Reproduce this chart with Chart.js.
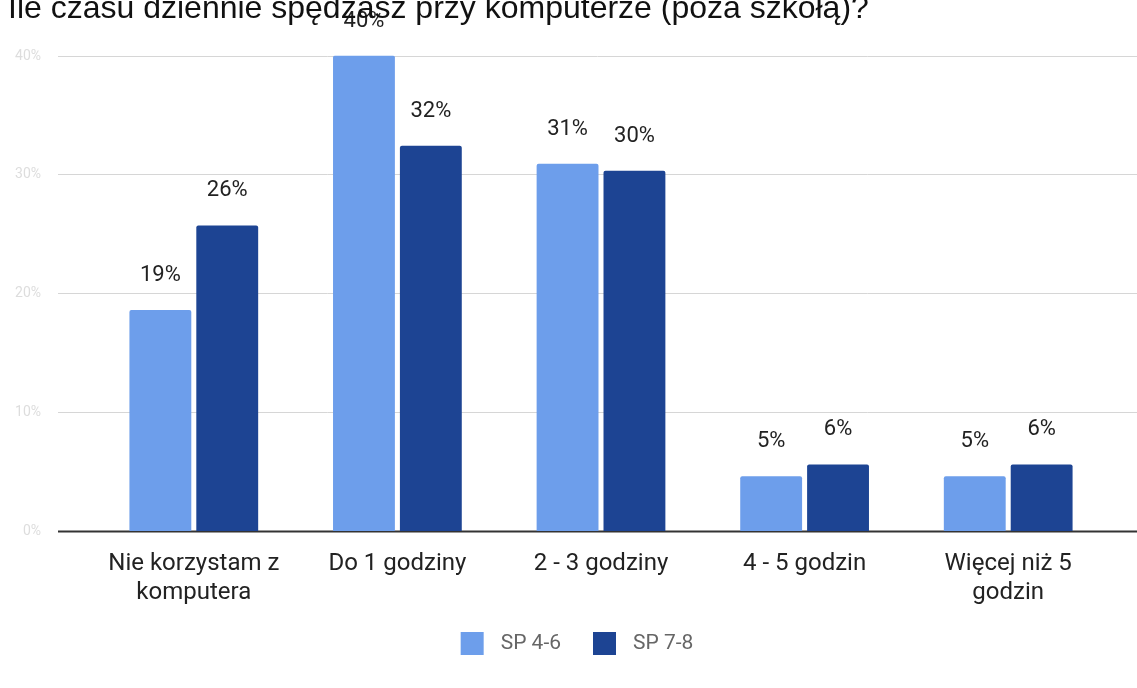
<!DOCTYPE html>
<html>
<head>
<meta charset="utf-8">
<script src="https://cdn.jsdelivr.net/npm/chart.js@4/dist/chart.umd.min.js"></script>
<style>
html,body{margin:0;padding:0;background:#fff;}
#wrap{position:relative;width:1137px;height:688px;}
</style>
</head>
<body>
<div id="wrap"><canvas id="c" width="1137" height="688"></canvas></div>
<script>
const titleText = 'Ile czasu dziennie spędzasz przy komputerze (poza szkołą)?';
const categories = [
  ['Nie korzystam z', 'komputera'],
  'Do 1 godziny',
  '2 - 3 godziny',
  '4 - 5 godzin',
  ['Więcej niż 5', 'godzin']
];
const seriesNames = ['SP 4-6', 'SP 7-8'];
const seriesColors = ['#6d9eeb', '#1d4493'];
const sp46 = [18.6, 40.0, 30.9, 4.6, 4.6];
const sp78 = [25.7, 32.4, 30.3, 5.6, 5.6];
const sp46Labels = ['19%', '40%', '31%', '5%', '5%'];
const sp78Labels = ['26%', '32%', '30%', '6%', '6%'];
const yTicks = [0, 10, 20, 30, 40];
const yTickLabels = ['0%', '10%', '20%', '30%', '40%'];

const FONT = 'Roboto, "Noto Sans", sans-serif';

const overlay = {
  id: 'overlay',
  beforeDatasetsDraw(chart) {
    const ctx = chart.ctx, y = chart.scales.y;
    ctx.save();
    yTicks.forEach((t, i) => {
      const py = Math.round(y.getPixelForValue(t));
      ctx.beginPath();
      if (t === 0) {
        ctx.strokeStyle = '#333333';
        ctx.lineWidth = 2;
      } else {
        ctx.strokeStyle = '#d6d6d6';
        ctx.lineWidth = 1;
      }
      ctx.moveTo(58, py + 0.5);
      ctx.lineTo(chart.width, py + 0.5);
      ctx.stroke();
      ctx.fillStyle = '#dddddd';
      ctx.font = '14px ' + FONT;
      ctx.textAlign = 'right';
      ctx.textBaseline = 'middle';
      ctx.fillText(yTickLabels[i], 41, py);
    });
    ctx.restore();
  },
  afterDatasetsDraw(chart) {
    const ctx = chart.ctx;
    ctx.save();
    ctx.fillStyle = '#222222';
    ctx.font = '22px ' + FONT;
    ctx.textAlign = 'center';
    ctx.textBaseline = 'alphabetic';
    [sp46Labels, sp78Labels].forEach((labels, di) => {
      const meta = chart.getDatasetMeta(di);
      meta.data.forEach((bar, i) => {
        ctx.fillText(labels[i], bar.x, bar.y - 29);
      });
    });
    // legend
    ctx.font = '21px ' + FONT;
    ctx.textBaseline = 'middle';
    ctx.textAlign = 'left';
    const box = 23, gapBT = 17, gapItems = 32, legY = 643.5;
    const widths = seriesNames.map(n => box + gapBT + ctx.measureText(n).width);
    const total = widths[0] + gapItems + widths[1];
    let lx = 577 - total / 2;
    seriesNames.forEach((n, i) => {
      ctx.fillStyle = seriesColors[i];
      ctx.fillRect(lx, legY - box / 2, box, box);
      ctx.fillStyle = '#666666';
      ctx.fillText(n, lx + box + gapBT, legY);
      lx += widths[i] + gapItems;
    });
    // title (cut at top like the reference)
    ctx.font = '32px "Liberation Sans", Arial, sans-serif';
    ctx.textBaseline = 'alphabetic';
    ctx.fillStyle = '#111111';
    ctx.fillText(titleText, 8, 18);
    ctx.restore();
  }
};

new Chart(document.getElementById('c'), {
  type: 'bar',
  data: {
    labels: categories,
    datasets: [
      { label: seriesNames[0], data: sp46, backgroundColor: seriesColors[0], borderRadius: 2, borderSkipped: 'bottom' },
      { label: seriesNames[1], data: sp78, backgroundColor: seriesColors[1], borderRadius: 2, borderSkipped: 'bottom' }
    ]
  },
  options: {
    responsive: false,
    animation: false,
    layout: { padding: { left: 92, right: 27, top: 55.5, bottom: 65 } },
    categoryPercentage: 0.657,
    barPercentage: 0.925,
    plugins: {
      legend: { display: false },
      tooltip: { enabled: false }
    },
    scales: {
      x: {
        grid: { display: false, drawTicks: false },
        border: { display: false },
        ticks: {
          color: '#222222',
          font: { family: FONT, size: 24, lineHeight: 1.2 },
          padding: 19,
          maxRotation: 0,
          autoSkip: false
        },
        afterFit(scale) { scale.height = 92; }
      },
      y: {
        display: false,
        min: 0, max: 40
      }
    }
  },
  plugins: [overlay]
});
</script>
</body>
</html>
